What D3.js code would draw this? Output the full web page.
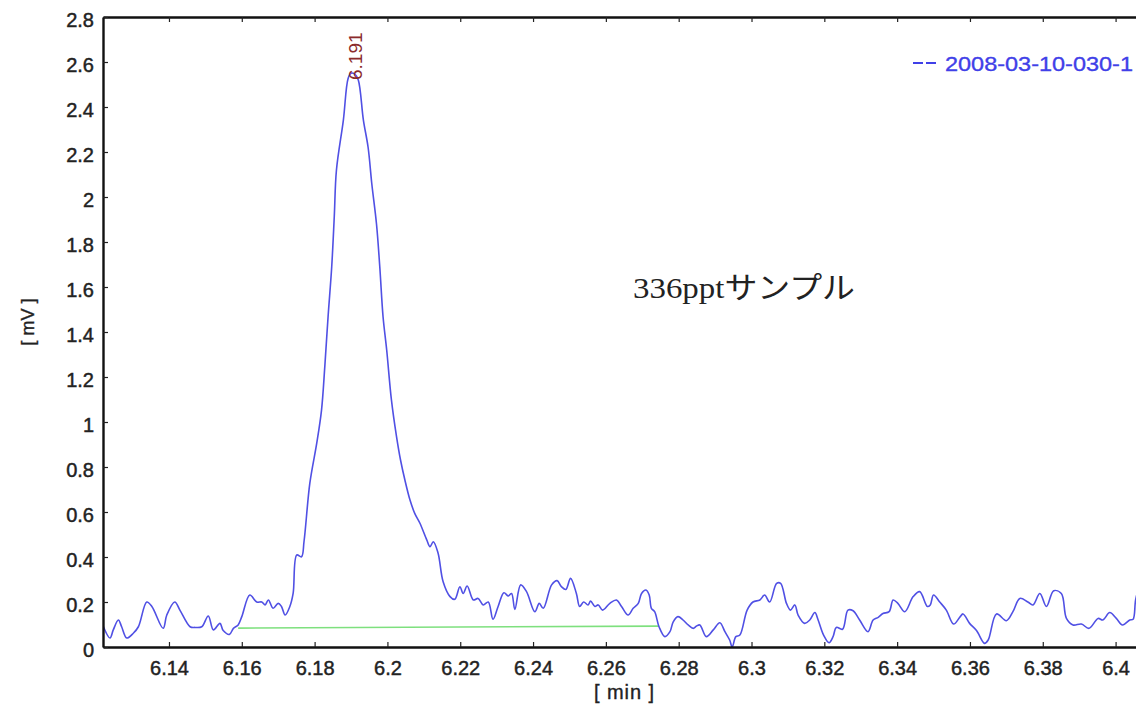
<!DOCTYPE html>
<html>
<head>
<meta charset="utf-8">
<script src="https://cdn.jsdelivr.net/npm/d3@7"></script>
<style>
  body { margin: 0; background: #fff; }
  svg { display: block; }
  .tick text { font-family: "Liberation Sans", Arial, sans-serif; font-size: 20px; fill: #222;
    stroke: #222; stroke-width: 0.45px; }
  .label { font-family: "Liberation Sans", Arial, sans-serif; stroke-width: 0.35px; }
</style>
</head>
<body>
<div id="chart"></div>
<script>
// retention time [min] and detector signal [mV]
const times = [6.1218, 6.1238, 6.1247, 6.1261, 6.1270, 6.1284, 6.1302, 6.1316, 6.1339, 6.1353,
  6.1384, 6.1394, 6.1416, 6.1430, 6.1458, 6.1471, 6.1490, 6.1508, 6.1522, 6.1540,
  6.1549, 6.1566, 6.1577, 6.1590, 6.1600, 6.1622, 6.1641, 6.1655, 6.1664, 6.1673,
  6.1686, 6.1700, 6.1709, 6.1719, 6.1732, 6.1741, 6.1751, 6.1764, 6.1771, 6.1787,
  6.1806, 6.1819, 6.1828, 6.1837, 6.1847, 6.1854, 6.1860, 6.1879, 6.1892, 6.1900,
  6.1911, 6.1920, 6.1934, 6.1947, 6.1957, 6.1970, 6.1979, 6.1988, 6.1998, 6.2011,
  6.2025, 6.2036, 6.2048, 6.2062, 6.2075, 6.2089, 6.2108, 6.2117, 6.2126, 6.2139,
  6.2153, 6.2172, 6.2185, 6.2199, 6.2208, 6.2219, 6.2236, 6.2249, 6.2263, 6.2277,
  6.2290, 6.2304, 6.2320, 6.2332, 6.2341, 6.2350, 6.2366, 6.2382, 6.2405, 6.2417,
  6.2428, 6.2451, 6.2466, 6.2478, 6.2490, 6.2503, 6.2519, 6.2528, 6.2539, 6.2551,
  6.2558, 6.2570, 6.2579, 6.2591, 6.2611, 6.2629, 6.2643, 6.2661, 6.2675, 6.2689,
  6.2698, 6.2710, 6.2719, 6.2725, 6.2734, 6.2746, 6.2762, 6.2776, 6.2785, 6.2798,
  6.2812, 6.2826, 6.2840, 6.2849, 6.2858, 6.2876, 6.2895, 6.2913, 6.2927, 6.2940,
  6.2947, 6.2957, 6.2968, 6.2988, 6.3004, 6.3023, 6.3036, 6.3050, 6.3069, 6.3080,
  6.3096, 6.3107, 6.3119, 6.3128, 6.3146, 6.3160, 6.3174, 6.3183, 6.3198, 6.3213,
  6.3224, 6.3233, 6.3250, 6.3265, 6.3279, 6.3297, 6.3320, 6.3334, 6.3348, 6.3361,
  6.3378, 6.3389, 6.3402, 6.3421, 6.3444, 6.3462, 6.3483, 6.3491, 6.3500, 6.3517,
  6.3535, 6.3555, 6.3572, 6.3581, 6.3599, 6.3618, 6.3640, 6.3650, 6.3673, 6.3700,
  6.3718, 6.3737, 6.3759, 6.3773, 6.3792, 6.3810, 6.3830, 6.3851, 6.3865, 6.3883,
  6.3906, 6.3927, 6.3952, 6.3965, 6.3984, 6.4002, 6.4019, 6.4039, 6.4048, 6.4055,
  6.4066];
const signal = [0.098, 0.040, 0.076, 0.120, 0.090, 0.040, 0.061, 0.090, 0.200, 0.180,
  0.083, 0.142, 0.200, 0.164, 0.090, 0.087, 0.090, 0.138, 0.076, 0.105,
  0.073, 0.056, 0.083, 0.098, 0.135, 0.231, 0.200, 0.200, 0.187, 0.209,
  0.172, 0.194, 0.180, 0.142, 0.180, 0.238, 0.409, 0.401, 0.470, 0.729,
  0.907, 1.053, 1.246, 1.468, 1.690, 1.912, 2.120, 2.342, 2.527, 2.550,
  2.545, 2.520, 2.342, 2.220, 2.060, 1.880, 1.690, 1.468, 1.320, 1.098,
  0.935, 0.831, 0.742, 0.653, 0.594, 0.551, 0.476, 0.446, 0.468, 0.418,
  0.290, 0.224, 0.212, 0.268, 0.238, 0.271, 0.209, 0.216, 0.187, 0.200,
  0.123, 0.180, 0.241, 0.227, 0.238, 0.167, 0.276, 0.246, 0.157, 0.194,
  0.172, 0.276, 0.295, 0.268, 0.256, 0.305, 0.238, 0.180, 0.200, 0.187,
  0.204, 0.180, 0.187, 0.164, 0.194, 0.209, 0.180, 0.142, 0.172, 0.194,
  0.238, 0.253, 0.231, 0.172, 0.157, 0.090, 0.046, 0.068, 0.112, 0.135,
  0.120, 0.098, 0.083, 0.093, 0.098, 0.046, 0.076, 0.108, 0.068, 0.031,
  0.000, 0.046, 0.053, 0.164, 0.200, 0.209, 0.231, 0.200, 0.283, 0.283,
  0.194, 0.164, 0.187, 0.142, 0.105, 0.120, 0.153, 0.120, 0.053, 0.019,
  0.046, 0.087, 0.079, 0.164, 0.161, 0.120, 0.068, 0.120, 0.132, 0.149,
  0.157, 0.209, 0.194, 0.157, 0.224, 0.246, 0.180, 0.187, 0.231, 0.200,
  0.164, 0.102, 0.132, 0.147, 0.105, 0.073, 0.016, 0.031, 0.147, 0.117,
  0.157, 0.216, 0.200, 0.187, 0.238, 0.180, 0.250, 0.238, 0.127, 0.098,
  0.102, 0.083, 0.127, 0.120, 0.153, 0.127, 0.098, 0.120, 0.123, 0.209,
  0.280];

// integration baseline under the peak
const baseTimes = [6.1590, 6.2746];
const baseValues = [0.084, 0.093];

const peakTime = 6.191;
const peakLabel = "6.191";
const seriesName = "2008-03-10-030-1";
const sampleNote = "336pptサンプル";

const xTicks = [6.14, 6.16, 6.18, 6.2, 6.22, 6.24, 6.26, 6.28, 6.3, 6.32, 6.34, 6.36, 6.38, 6.4];
const xTickLabels = ["6.14", "6.16", "6.18", "6.2", "6.22", "6.24", "6.26", "6.28", "6.3", "6.32", "6.34", "6.36", "6.38", "6.4"];
const yTicks = [0, 0.2, 0.4, 0.6, 0.8, 1, 1.2, 1.4, 1.6, 1.8, 2, 2.2, 2.4, 2.6, 2.8];
const yTickLabels = ["0", "0.2", "0.4", "0.6", "0.8", "1", "1.2", "1.4", "1.6", "1.8", "2", "2.2", "2.4", "2.6", "2.8"];

const width = 1136, height = 704;
const margin = {left: 103, top: 17, bottom: 647, right: 1152}; // plot runs past the window edge

const svg = d3.select('#chart')
    .append('svg')
    .attr('width', width)
    .attr('height', height);

const x = d3.scaleLinear().domain([6.12188, 6.41]).range([margin.left, margin.right]);
const y = d3.scaleLinear().domain([0, 2.8]).range([margin.bottom, margin.top]);

svg.append('clipPath').attr('id', 'plotClip')
    .append('rect')
    .attr('x', margin.left).attr('y', margin.top)
    .attr('width', margin.right - margin.left).attr('height', margin.bottom - margin.top);

const points = times.map((t, i) => [t, signal[i]]);
const basePoints = baseTimes.map((t, i) => [t, baseValues[i]]);

const line = d3.line()
    .x(d => x(d[0]))
    .y(d => y(d[1]));

const plot = svg.append('g').attr('clip-path', 'url(#plotClip)');

plot.append('path')
    .datum(basePoints)
    .attr('d', line)
    .attr('fill', 'none')
    .attr('stroke', '#7ee07e')
    .attr('stroke-width', 1.6);

plot.append('path')
    .datum(points)
    .attr('d', line.curve(d3.curveCatmullRom.alpha(0.5)))
    .attr('fill', 'none')
    .attr('stroke', '#5050e4')
    .attr('stroke-width', 1.6)
    .attr('stroke-linejoin', 'round');

// axes, ticks pointing inward
const xAxis = d3.axisBottom(x)
    .tickValues(xTicks)
    .tickFormat((d, i) => xTickLabels[i])
    .tickSizeInner(-5)
    .tickSizeOuter(0)
    .tickPadding(14);

const gx = svg.append('g')
    .attr('transform', `translate(0,${margin.bottom})`)
    .call(xAxis);

const gxTop = svg.append('g')
    .attr('transform', `translate(0,${margin.top})`)
    .call(d3.axisTop(x).tickValues(xTicks).tickFormat('').tickSizeInner(-5).tickSizeOuter(0));

const yAxis = d3.axisLeft(y)
    .tickValues(yTicks)
    .tickFormat((d, i) => yTickLabels[i])
    .tickSizeInner(-5)
    .tickSizeOuter(0)
    .tickPadding(9);

const gy = svg.append('g')
    .attr('transform', `translate(${margin.left},0)`)
    .call(yAxis);
gy.selectAll('.tick text').attr('dy', '0.45em');

[gx, gxTop, gy].forEach(g => {
    g.select('.domain').attr('stroke', '#111').attr('stroke-width', 2.4);
    g.selectAll('.tick line').attr('stroke', '#222').attr('stroke-width', 1.2);
});

// axis titles
svg.append('text')
    .attr('class', 'label')
    .attr('x', 624)
    .attr('y', 699)
    .attr('text-anchor', 'middle')
    .attr('textLength', 60)
    .attr('lengthAdjust', 'spacing')
    .style('font-size', '20px')
    .style('fill', '#222')
    .style('stroke', '#222')
    .text('[ min ]');

svg.append('text')
    .attr('class', 'label')
    .attr('transform', 'translate(34,322)rotate(-90)')
    .attr('text-anchor', 'middle')
    .style('font-size', '18px')
    .style('fill', '#222')
    .style('stroke', '#222')
    .text('[ mV ]');

// peak label
svg.append('text')
    .attr('class', 'label')
    .attr('transform', `translate(${x(peakTime) + 7},${y(2.52)})rotate(-90)`)
    .attr('text-anchor', 'start')
    .style('font-size', '19px')
    .style('fill', '#8b2b2b')
    .text(peakLabel);

// legend
svg.append('line')
    .attr('x1', 913).attr('x2', 936)
    .attr('y1', 63).attr('y2', 63)
    .attr('stroke', '#4040e8')
    .attr('stroke-width', 2.2)
    .attr('stroke-dasharray', '10,3');

svg.append('text')
    .attr('class', 'label')
    .attr('x', 945)
    .attr('y', 70.5)
    .attr('textLength', 188)
    .attr('lengthAdjust', 'spacingAndGlyphs')
    .style('font-size', '21px')
    .style('fill', '#4040e8')
    .style('stroke', '#4040e8')
    .text(seriesName);

// sample note
svg.append('text')
    .attr('x', 633)
    .attr('y', 298)
    .attr('textLength', 222)
    .attr('lengthAdjust', 'spacingAndGlyphs')
    .style('font-family', '"Liberation Serif", "Noto Sans CJK JP", serif')
    .style('font-size', '30px')
    .style('fill', '#222')
    .text(sampleNote);
</script>
</body>
</html>
